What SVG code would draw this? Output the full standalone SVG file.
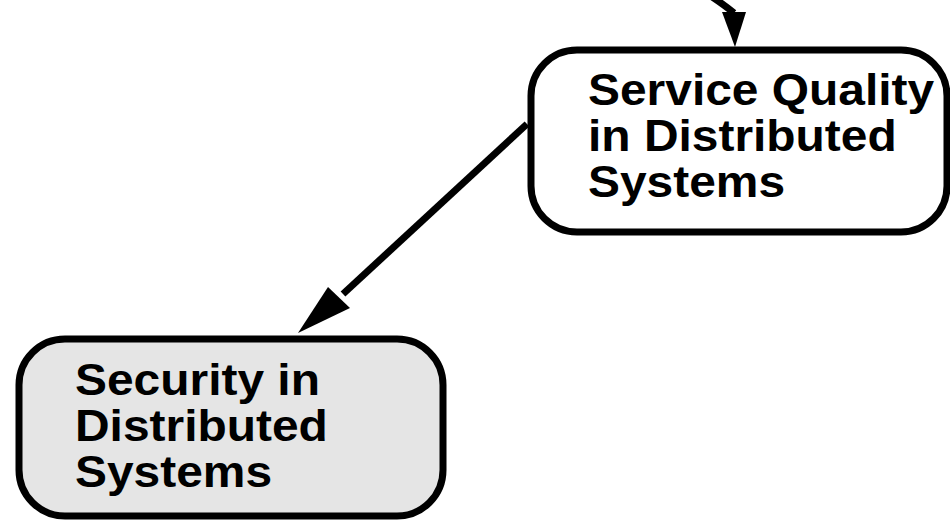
<svg xmlns="http://www.w3.org/2000/svg" width="950" height="525" viewBox="0 0 950 525">
  <style>
    .node { stroke: #000; stroke-width: 7; }
    .plain { fill: #fff; }
    .shaded { fill: #e5e5e5; }
    .label { font-family: "Liberation Sans", Arial, Helvetica, sans-serif; font-weight: bold; font-size: 45px; fill: #000; }
    .edge { fill: none; stroke: #000; stroke-width: 7; }
    .head { fill: #000; stroke: none; }
  </style>
  <rect width="950" height="525" fill="#fff"/>

  <!-- connectors -->
  <g id="connectors">
    <!-- incoming edge from above the visible area -->
    <path class="edge" d="M 703,-9 Q 722,3 734,13" stroke-width="5"/>
    <polygon class="head" points="722,12 746,12 735,47"/>
    <!-- Service Quality -> Security -->
    <line class="edge" x1="527" y1="124" x2="343" y2="294"/>
    <polygon class="head" points="298,333 328,287 350,308"/>
  </g>

  <g id="node-service-quality">
    <rect class="node plain" x="531" y="50" width="416" height="182" rx="46" ry="46"/>
    <text class="label" transform="translate(588,0) scale(1.065,1)">
      <tspan x="0" y="105">Service Quality</tspan>
      <tspan x="0" y="151">in Distributed</tspan>
      <tspan x="0" y="197">Systems</tspan>
    </text>
  </g>

  <g id="node-security">
    <rect class="node shaded" x="19" y="339" width="424" height="177" rx="46" ry="46"/>
    <text class="label" transform="translate(75,0) scale(1.065,1)">
      <tspan x="0" y="395">Security in</tspan>
      <tspan x="0" y="441">Distributed</tspan>
      <tspan x="0" y="487">Systems</tspan>
    </text>
  </g>
</svg>
